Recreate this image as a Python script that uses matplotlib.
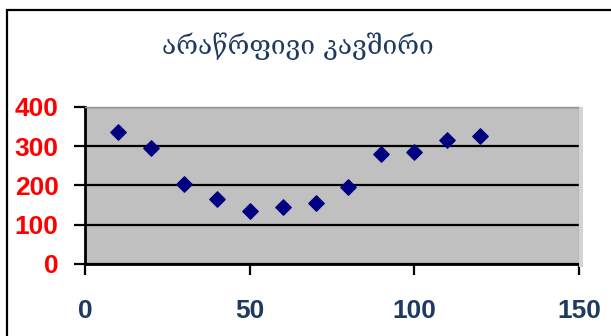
import matplotlib
matplotlib.use("Agg")
import matplotlib.pyplot as plt
from matplotlib.patches import Rectangle

# data
x_values = [10, 20, 30, 40, 50, 60, 70, 80, 90, 100, 110, 120]
y_values = [335, 295, 205, 165, 135, 145, 155, 195, 280, 285, 315, 325]
x_ticks = [0, 50, 100, 150]
y_ticks = [0, 100, 200, 300, 400]
title_text = "არაწრფივი კავშირი"

navy_text = "#1F3A60"

fig = plt.figure(figsize=(6.11, 3.36), dpi=100)
fig.patch.set_facecolor("white")

# outer chart frame (runs off the right and bottom edges)
fig.patches.append(Rectangle((0.0115, -0.2), 1.3, 1.17, transform=fig.transFigure,
                             fill=False, edgecolor="black", linewidth=1.6,
                             clip_on=False))

ax = fig.add_axes([0.1391, 0.2143, 0.8085, 0.4673])
ax.set_facecolor("#C0C0C0")

# shadow of the plot area on the right side
fig.patches.append(Rectangle((0.9476, 0.2143 - 0.008), 0.006, 0.4673 + 0.008,
                             transform=fig.transFigure, facecolor="#D4D4D4",
                             edgecolor="none", zorder=0))

ax.scatter(x_values, y_values, marker="D", s=7.8 ** 2, color="#000080",
           zorder=3, clip_on=False)

ax.set_xlim(0, 150)
ax.set_ylim(0, 400)
ax.set_xticks(x_ticks)
ax.set_yticks(y_ticks)
ax.set_xticklabels([str(v) for v in x_ticks])
ax.set_yticklabels([str(v) for v in y_ticks])

ax.yaxis.grid(True, color="black", linewidth=1.6)
ax.set_axisbelow(True)

for side in ("top", "right"):
    ax.spines[side].set_color("#9A9A9A")
    ax.spines[side].set_linewidth(1.0)
for side in ("left", "bottom"):
    ax.spines[side].set_color("black")
    ax.spines[side].set_linewidth(2.0)

ax.tick_params(axis="y", direction="out", length=8, width=1.6, pad=11,
               labelsize=19, labelcolor="#FF0000")
ax.tick_params(axis="x", direction="out", length=8, width=1.6, pad=17,
               labelsize=19, labelcolor=navy_text)
for lab in ax.get_xticklabels() + ax.get_yticklabels():
    lab.set_fontfamily("Liberation Sans")
    lab.set_fontweight("bold")

fig.text(0.488, 0.862, title_text, ha="center", va="center", fontsize=19,
         color=navy_text, family=["DejaVu Serif", "DejaVu Sans"])

fig.savefig("out.png", dpi=100)
